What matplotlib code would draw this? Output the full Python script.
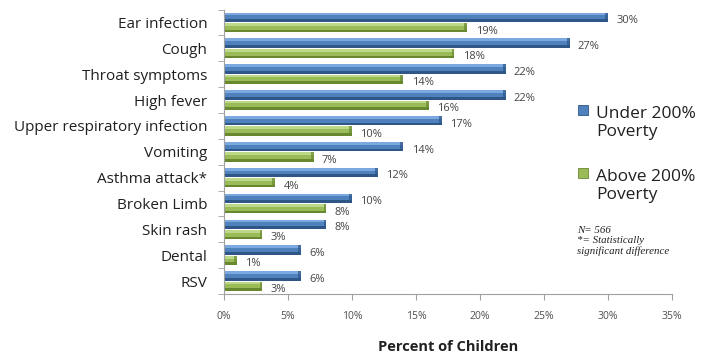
import numpy as np
import matplotlib.pyplot as plt
from matplotlib.patches import Rectangle

plt.rcParams['font.family'] = ['Open Sans', 'DejaVu Sans']

# Survey results: share of children with each illness/injury
categories = ["Ear infection", "Cough", "Throat symptoms", "High fever",
              "Upper respiratory infection", "Vomiting", "Asthma attack*",
              "Broken Limb", "Skin rash", "Dental", "RSV"]
under_200 = [30, 27, 22, 22, 17, 14, 12, 10, 8, 6, 6]
above_200 = [19, 18, 14, 16, 10, 7, 4, 8, 3, 1, 3]
x_ticks = [0, 5, 10, 15, 20, 25, 30, 35]
legend_labels = ["Under 200%\nPoverty", "Above 200%\nPoverty"]
note_text = "N= 566\n*= Statistically\nsignificant difference"

# top / middle / bottom shades to fake the beveled look
blue = ("#7ba8de", "#4f81bd", "#2e5687")
green = ("#bcd98a", "#9bbb59", "#67882f")

W, H = 701, 354
fig = plt.figure(figsize=(W / 100, H / 100), dpi=100)
ax = fig.add_axes([224 / W, 1 - 294 / H, 448 / W, 284.5 / H])


def px(x, y):
    return x / W, 1 - y / H


def shaded_bars(ax, pos, vals, top, h, shades):
    light, mid, dark = shades
    ax.barh(pos + top, vals, height=h, align='edge', color=dark, lw=0)
    ax.barh(pos + top, vals, height=h * 0.72, align='edge', color=mid, lw=0)
    ax.barh(pos + top, vals, height=h * 0.3, align='edge', color=light, lw=0)
    # darker end cap
    caps = np.array(vals) - 0.22
    ax.barh(pos + top, 0.22, left=caps, height=h, align='edge', color=dark, lw=0, alpha=0.7)


y = np.arange(len(categories))
bh = 0.36
shaded_bars(ax, y, under_200, -0.38, bh, blue)
shaded_bars(ax, y, above_200, 0.02, bh, green)

for yi, v in zip(y, under_200):
    ax.annotate(f"{v:.0f}%", xy=(v, yi - 0.38 + bh / 2), xytext=(6, -2.5),
                textcoords='offset points', va='center', ha='left',
                fontsize=8, color='#454545')
for yi, v in zip(y, above_200):
    ax.annotate(f"{v:.0f}%", xy=(v, yi + 0.02 + bh / 2), xytext=(6, -2.5),
                textcoords='offset points', va='center', ha='left',
                fontsize=8, color='#454545')

ax.set_xlim(0, 35)
ax.set_ylim(len(categories) - 0.5, -0.5)
ax.set_xticks(x_ticks)
ax.set_xticklabels([f"{t}%" for t in x_ticks], fontsize=7.5, color='#505050')
ax.set_yticks(y)
ax.set_yticklabels(categories, fontsize=11, color='#202020')
ax.set_yticks(np.arange(len(categories) + 1) - 0.5, minor=True)
ax.tick_params(axis='y', which='major', length=0, pad=12)
ax.tick_params(axis='y', which='minor', length=4, color='#a0a0a0', direction='out')
ax.tick_params(axis='x', length=4, color='#a0a0a0', pad=8)
for s in ('top', 'right'):
    ax.spines[s].set_visible(False)
for s in ('left', 'bottom'):
    ax.spines[s].set_color('#a0a0a0')
ax.set_xlabel("Percent of Children", fontsize=10.5, fontweight='bold', labelpad=13,
              color='#202020')

# legend drawn by hand so the swatch sits on the first line
for (yy, shades, lab) in [(105, blue, legend_labels[0]), (168, green, legend_labels[1])]:
    x0, y0 = px(578, yy + 10)
    fig.add_artist(Rectangle((x0, y0), 10 / W, 10 / H, transform=fig.transFigure,
                             facecolor=shades[1], edgecolor=shades[2], lw=0.6))
    tx, ty = px(596, yy + 1)
    fig.text(tx, ty, lab, fontsize=12.5, color='#202020', va='top', ha='left',
             linespacing=1.15)

nx, ny = px(577, 226)
fig.text(nx, ny, note_text, fontsize=7.8, family='Liberation Serif', style='italic',
         va='top', ha='left', linespacing=1.15, color='#202020')

fig.savefig("out.png", dpi=100)
